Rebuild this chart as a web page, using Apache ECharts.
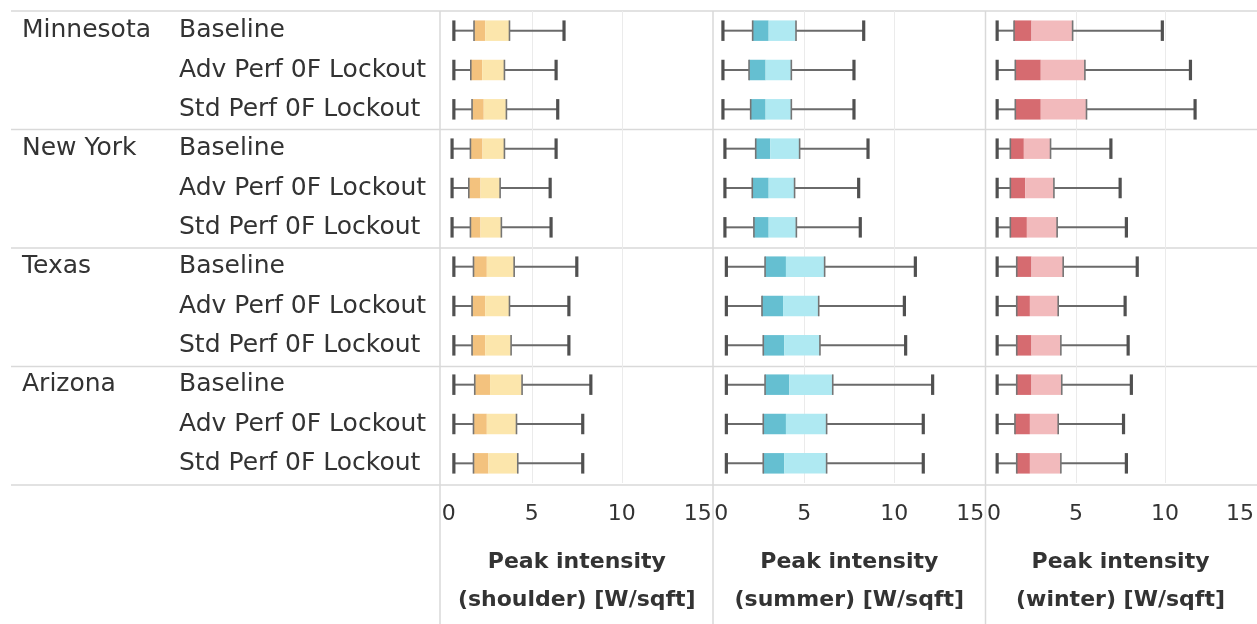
<!DOCTYPE html>
<html><head><meta charset="utf-8">
<script src="https://cdn.jsdelivr.net/npm/echarts@6/dist/echarts.min.js"></script>
<style>html,body{margin:0;padding:0;background:#fff}#c{width:1257px;height:624px}</style>
</head><body><div id="c"></div>
<script>
const states = ['Minnesota', 'New York', 'Texas', 'Arizona'];
const scenarios = ['Baseline', 'Adv Perf 0F Lockout', 'Std Perf 0F Lockout'];
const xTickLabels = ['0', '5', '10', '15'];
const axisTitles = ['Peak intensity\n(shoulder) [W/sqft]', 'Peak intensity\n(summer) [W/sqft]', 'Peak intensity\n(winter) [W/sqft]'];

// order: MN Base/Adv/Std, NY ..., TX ..., AZ ...
const shoulderMin = [0.67,0.67,0.67,0.57,0.57,0.57,0.67,0.67,0.67,0.67,0.67,0.67];
const shoulderQ1  = [1.79,1.61,1.68,1.59,1.50,1.59,1.76,1.68,1.68,1.83,1.76,1.76];
const shoulderMed = [2.41,2.24,2.33,2.26,2.15,2.15,2.50,2.41,2.41,2.68,2.50,2.59];
const shoulderQ3  = [3.76,3.48,3.59,3.48,3.24,3.31,4.02,3.76,3.85,4.46,4.15,4.22];
const shoulderMax = [6.79,6.35,6.44,6.35,6.02,6.07,7.50,7.06,7.06,8.28,7.83,7.83];

const summerMin = [0.48,0.48,0.48,0.59,0.59,0.59,0.67,0.67,0.67,0.67,0.67,0.67];
const summerQ1  = [2.13,1.93,2.02,2.30,2.11,2.20,2.82,2.65,2.72,2.82,2.72,2.72];
const summerMed = [3.02,2.85,2.85,3.11,3.02,3.02,3.98,3.82,3.89,4.17,3.98,3.89];
const summerQ3  = [4.54,4.28,4.28,4.74,4.46,4.56,6.13,5.80,5.87,6.58,6.24,6.24];
const summerMax = [8.30,7.76,7.76,8.54,8.02,8.11,11.17,10.56,10.63,12.13,11.61,11.61];

const winterMin = [0.57,0.57,0.57,0.57,0.57,0.57,0.57,0.57,0.57,0.57,0.57,0.57];
const winterQ1  = [1.52,1.59,1.59,1.31,1.31,1.31,1.67,1.67,1.67,1.67,1.57,1.67];
const winterMed = [2.50,3.02,3.02,2.07,2.15,2.24,2.50,2.41,2.50,2.50,2.41,2.41];
const winterQ3  = [4.81,5.50,5.59,3.57,3.76,3.94,4.28,4.00,4.15,4.20,4.00,4.15];
const winterMax = [9.85,11.43,11.69,6.96,7.48,7.83,8.44,7.76,7.93,8.11,7.67,7.83];

const panels = [
  {mn: shoulderMin, q1: shoulderQ1, md: shoulderMed, q3: shoulderQ3, mx: shoulderMax, dark: '#F3C27E', light: '#FCE6AC'},
  {mn: summerMin, q1: summerQ1, md: summerMed, q3: summerQ3, mx: summerMax, dark: '#65BFD1', light: '#AFE9F2'},
  {mn: winterMin, q1: winterQ1, md: winterMed, q3: winterQ3, mx: winterMax, dark: '#D66B70', light: '#F2BABC'}
];

const categories = [];
states.forEach(s => scenarios.forEach(sc => categories.push(s + '|' + sc)));

const FONT = 'DejaVu Sans';
const gridLefts = [441.8, 714.3, 987];
const GRID_TOP = 11, GRID_H = 474, GRID_W = 270;

function makeRender(dark, light) {
  return function (params, api) {
    const r = api.value(0);
    const pMin = api.coord([api.value(1), r]);
    const pQ1 = api.coord([api.value(2), r]);
    const pMed = api.coord([api.value(3), r]);
    const pQ3 = api.coord([api.value(4), r]);
    const pMax = api.coord([api.value(5), r]);
    const y = pMin[1];
    const bh = 20.5, ch = 20.5;
    const wStyle = {stroke: '#6a6a6a', lineWidth: 2};
    const cStyle = {stroke: '#505050', lineWidth: 3.2};
    const eStyle = {stroke: '#757575', lineWidth: 1.6};
    return {type: 'group', children: [
      {type: 'line', shape: {x1: pMin[0], y1: y, x2: pQ1[0], y2: y}, style: wStyle},
      {type: 'line', shape: {x1: pQ3[0], y1: y, x2: pMax[0], y2: y}, style: wStyle},
      {type: 'rect', shape: {x: pQ1[0], y: y - bh / 2, width: pMed[0] - pQ1[0], height: bh}, style: {fill: dark}},
      {type: 'rect', shape: {x: pMed[0], y: y - bh / 2, width: pQ3[0] - pMed[0], height: bh}, style: {fill: light}},
      {type: 'line', shape: {x1: pQ1[0], y1: y - bh / 2, x2: pQ1[0], y2: y + bh / 2}, style: eStyle},
      {type: 'line', shape: {x1: pQ3[0], y1: y - bh / 2, x2: pQ3[0], y2: y + bh / 2}, style: eStyle},
      {type: 'line', shape: {x1: pMin[0], y1: y - ch / 2, x2: pMin[0], y2: y + ch / 2}, style: cStyle},
      {type: 'line', shape: {x1: pMax[0], y1: y - ch / 2, x2: pMax[0], y2: y + ch / 2}, style: cStyle}
    ]};
  };
}

const grids = [], xAxes = [], yAxes = [], series = [];
panels.forEach((p, i) => {
  grids.push({left: gridLefts[i], top: GRID_TOP, width: GRID_W, height: GRID_H});
  xAxes.push({
    type: 'value', gridIndex: i, min: 0, max: 15, interval: 5,
    axisLine: {show: false}, axisTick: {show: false},
    splitLine: {show: true, showMinLine: false, showMaxLine: false, lineStyle: {color: '#ebebeb', width: 1}},
    axisLabel: {
      fontSize: 22, fontFamily: FONT, color: '#333', margin: 20,
      alignMinLabel: 'left', alignMaxLabel: 'right',
      formatter: v => xTickLabels[Math.round(v / 5)]
    },
    name: axisTitles[i], nameLocation: 'middle', nameGap: 60,
    nameTextStyle: {fontSize: 22, fontFamily: FONT, fontWeight: 'bold', color: '#333', lineHeight: 38}
  });
  yAxes.push({
    type: 'category', gridIndex: i, data: categories, inverse: true,
    axisLine: {show: false}, axisTick: {show: false}, splitLine: {show: false},
    axisLabel: i === 0 ? {
      show: true, align: 'left', margin: gridLefts[0] - 22, interval: 0,
      formatter: (v, idx) => {
        const parts = v.split('|');
        const st = idx % 3 === 0 ? parts[0] : ' ';
        return '{st|' + st + '}{sc|' + parts[1] + '}';
      },
      rich: {
        st: {width: 157, fontSize: 25, fontFamily: FONT, color: '#333'},
        sc: {fontSize: 25, fontFamily: FONT, color: '#333'}
      }
    } : {show: false}
  });
  const data = p.mn.map((v, k) => [k, p.mn[k], p.q1[k], p.md[k], p.q3[k], p.mx[k]]);
  series.push({
    type: 'custom', xAxisIndex: i, yAxisIndex: i, data: data,
    encode: {x: [1, 2, 3, 4, 5], y: 0},
    renderItem: makeRender(p.dark, p.light), silent: true
  });
});

const lineStyle = {stroke: '#d9d9d9', lineWidth: 1.5};
const graphics = [];
[11, 129.5, 248, 366.5, 485].forEach(y => graphics.push({type: 'line', shape: {x1: 11, y1: y, x2: 1257, y2: y}, style: lineStyle, silent: true, z: -1}));
[440, 713, 985.5].forEach(x => graphics.push({type: 'line', shape: {x1: x, y1: 11, x2: x, y2: 624}, style: lineStyle, silent: true, z: -1}));

const chart = echarts.init(document.getElementById('c'));
chart.setOption({
  animation: false,
  backgroundColor: '#fff',
  grid: grids, xAxis: xAxes, yAxis: yAxes, series: series,
  graphic: graphics
});
</script></body></html>
